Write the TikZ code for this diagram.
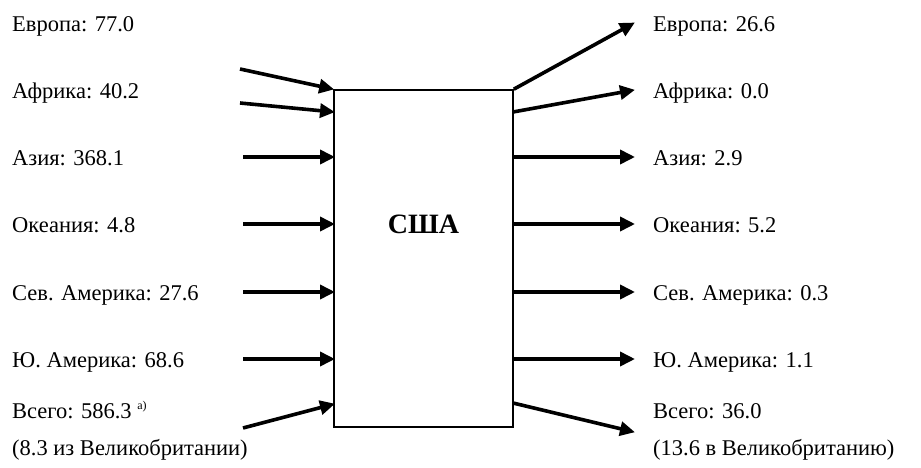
\documentclass[tikz,border=0pt]{standalone}
\usepackage{fontspec}
\setmainfont{Liberation Serif}
\usetikzlibrary{arrows.meta}
\begin{document}
\begin{tikzpicture}[x=1pt,y=-1pt,
  lbl/.style={anchor=base west,inner sep=0pt,font=\fontsize{22.5}{27}\selectfont},
  flow/.style={line width=3.6pt,-{Triangle[length=15pt,width=14pt]},shorten >=-1pt},
  boxst/.style={draw,line width=1.6pt,minimum width=179pt,minimum height=337pt,inner sep=0pt}]
\useasboundingbox (0,0) rectangle (921,468);
\node[boxst] (usa) at (423.5,258.5) {};
\node[font=\fontsize{28}{30}\selectfont\bfseries,inner sep=0pt] (usatxt) at (423.5,224) {США};
% left labels
\node[lbl] (le) at (12,32) {Европа: 77.0};
\node[lbl] (laf) at (12,99) {Африка: 40.2};
\node[lbl] (las) at (12,165) {Азия: 368.1};
\node[lbl] (loc) at (12,232) {Океания: 4.8};
\node[lbl] (lna) at (12,300) {Сев. Америка: 27.6};
\node[lbl] (lsa) at (12,367) {Ю. Америка: 68.6};
\node[lbl] (ltot) at (12,418) {Всего: 586.3 \raisebox{9pt}{\fontsize{12}{12}\selectfont а)}};
\node[lbl] (ltot2) at (12,455) {(8.3 из Великобритании)};
% right labels
\node[lbl] (re) at (653,32) {Европа: 26.6};
\node[lbl] (raf) at (653,99) {Африка: 0.0};
\node[lbl] (ras) at (653,165) {Азия: 2.9};
\node[lbl] (roc) at (653,232) {Океания: 5.2};
\node[lbl] (rna) at (653,300) {Сев. Америка: 0.3};
\node[lbl] (rsa) at (653,367) {Ю. Америка: 1.1};
\node[lbl] (rtot) at (653,418) {Всего: 36.0};
\node[lbl] (rtot2) at (653,455) {(13.6 в Великобританию)};
% left arrow coordinates
\coordinate (a1) at (240,69);  \coordinate (b1) at (usa.north west);
\coordinate (a2) at (240,103); \coordinate (b2) at (334,112);
\coordinate (a3) at (243,157); \coordinate (b3) at (334,157);
\coordinate (a4) at (243,224); \coordinate (b4) at (334,224);
\coordinate (a5) at (243,292); \coordinate (b5) at (334,292);
\coordinate (a6) at (243,359); \coordinate (b6) at (334,359);
\coordinate (a7) at (243,428); \coordinate (b7) at (334,404);
% right arrow coordinates
\coordinate (c1) at (usa.north east); \coordinate (d1) at (634,23);
\coordinate (c2) at (513,112); \coordinate (d2) at (634,90);
\coordinate (c3) at (513,157); \coordinate (d3) at (634,157);
\coordinate (c4) at (513,224); \coordinate (d4) at (634,224);
\coordinate (c5) at (513,292); \coordinate (d5) at (634,292);
\coordinate (c6) at (513,359); \coordinate (d6) at (634,359);
\coordinate (c7) at (513,403); \coordinate (d7) at (634,432);
\foreach \i in {1,...,7}{
  \draw[flow] (a\i) -- (b\i);
  \draw[flow] (c\i) -- (d\i);
}
\end{tikzpicture}
\end{document}
